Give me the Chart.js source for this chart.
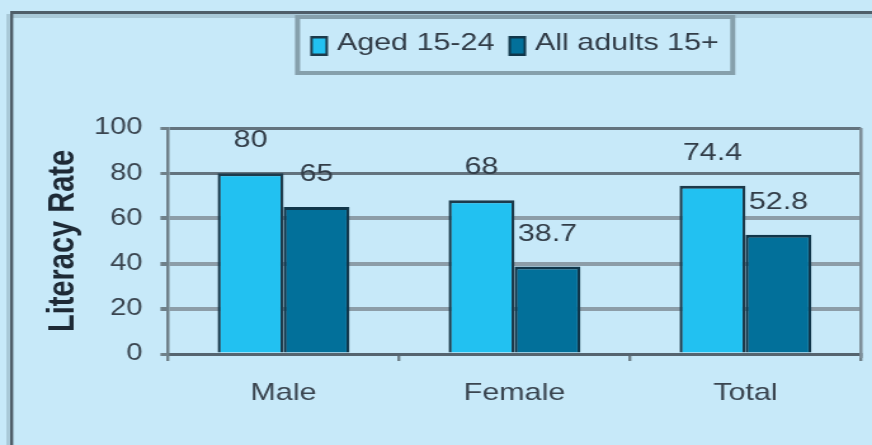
<!DOCTYPE html>
<html>
<head>
<meta charset="utf-8">
<script src="https://cdn.jsdelivr.net/npm/chart.js@4"></script>
<style>
  html, body { margin: 0; padding: 0; background: #c7e9f9; overflow: hidden; }
  #chart { display: block; }
</style>
</head>
<body>
<!-- the source chart is stretched sideways, so the canvas is drawn narrow and widened by css -->
<canvas id="chart" width="687" height="445" style="width:872px;height:445px"></canvas>
<script>
const categories = ['Male', 'Female', 'Total'];
const seriesNames = ['Aged 15-24', 'All adults 15+'];
const aged1524 = [80, 68, 74.4];
const allAdults = [65, 38.7, 52.8];
const yTicks = [0, 20, 40, 60, 80, 100];

const seriesColors = ['#22c1f1', '#02709a'];
const seriesBorders = ['#1c3a4b', '#10364a'];
const FONT = '"Liberation Sans", Arial, sans-serif';

Chart.defaults.font.family = FONT;

const frame = {
  id: 'frame',
  beforeDraw(chart) {
    const { ctx, width, height } = chart;
    ctx.save();
    ctx.fillStyle = '#c7e9f9';
    ctx.fillRect(0, 0, width, height);
    // outer chart border (cropped on right / bottom)
    ctx.fillStyle = '#a9c9d8';
    ctx.fillRect(5, 14, 3, height);
    ctx.fillRect(10, 14, width, 4);
    ctx.fillStyle = '#4f5e69';
    ctx.fillRect(8, 11, 2.4, height);
    ctx.fillRect(8, 11, width, 3);
    ctx.restore();
  },
  afterDraw(chart) {
    const { ctx, chartArea } = chart;
    ctx.save();
    // right edge of plot area
    ctx.strokeStyle = '#7d8d97';
    ctx.lineWidth = 2.5;
    ctx.beginPath();
    ctx.moveTo(chartArea.right, chartArea.top);
    ctx.lineTo(chartArea.right, chartArea.bottom + 4);
    ctx.stroke();
    ctx.restore();
  }
};

const valueLabels = {
  id: 'valueLabels',
  afterDatasetsDraw(chart) {
    const ctx = chart.ctx;
    ctx.save();
    ctx.font = '24px ' + FONT;
    ctx.fillStyle = '#323d48';
    ctx.textAlign = 'center';
    ctx.textBaseline = 'alphabetic';
    chart.data.datasets.forEach((ds, i) => {
      chart.getDatasetMeta(i).data.forEach((bar, j) => {
        ctx.fillText(String(ds.data[j]), bar.x, bar.y - 26);
      });
    });
    ctx.restore();
  }
};

const boxedLegend = {
  id: 'boxedLegend',
  afterDraw(chart) {
    const { ctx, chartArea } = chart;
    const sets = chart.data.datasets;
    ctx.save();
    ctx.font = '24px ' + FONT;
    const sq = 14, sqGap = 7, itemGap = 11;
    const widths = sets.map(ds => ctx.measureText(ds.label).width);
    let total = itemGap * (sets.length - 1);
    widths.forEach(w => { total += sq + sqGap + w; });
    let x = (chartArea.left + chartArea.right) / 2 - total / 2;

    ctx.strokeStyle = '#86a0ac';
    ctx.lineWidth = 4;
    ctx.strokeRect(x - 10, 17, total + 21, 56);

    sets.forEach((ds, i) => {
      ctx.fillStyle = ds.borderColor;
      ctx.fillRect(x, 36, sq, 20);
      ctx.fillStyle = ds.backgroundColor;
      ctx.fillRect(x + 2, 38.5, sq - 4, 15);
      ctx.fillStyle = '#323d48';
      ctx.textBaseline = 'alphabetic';
      ctx.fillText(ds.label, x + sq + sqGap, 50);
      x += sq + sqGap + widths[i] + itemGap;
    });
    ctx.restore();
  }
};

new Chart(document.getElementById('chart'), {
  type: 'bar',
  data: {
    labels: categories,
    datasets: [
      {
        label: seriesNames[0],
        data: aged1524,
        backgroundColor: seriesColors[0],
        borderColor: seriesBorders[0],
        borderWidth: { top: 3, left: 2.4, right: 2.4, bottom: 0 },
        borderSkipped: 'bottom',
        categoryPercentage: 0.571,
        barPercentage: 1
      },
      {
        label: seriesNames[1],
        data: allAdults,
        backgroundColor: seriesColors[1],
        borderColor: seriesBorders[1],
        borderWidth: { top: 3, left: 2.4, right: 2.4, bottom: 0 },
        borderSkipped: 'bottom',
        categoryPercentage: 0.571,
        barPercentage: 1
      }
    ]
  },
  options: {
    responsive: false,
    animation: false,
    layout: { padding: { left: 33, right: 8.7, top: 128, bottom: 0 } },
    plugins: {
      legend: { display: false },
      tooltip: { enabled: false }
    },
    scales: {
      x: {
        offset: true,
        grid: {
          offset: true,
          drawOnChartArea: false,
          tickLength: 7,
          tickColor: '#6f8089',
          lineWidth: 2.4
        },
        border: { color: '#55646f', width: 3 },
        ticks: { color: '#3a4550', font: { size: 24 }, padding: 18 },
        afterFit(scale) { scale.height = 91; }
      },
      y: {
        min: 0,
        max: 100,
        afterBuildTicks(scale) { scale.ticks = yTicks.map(v => ({ value: v })); },
        afterFit(scale) { scale.width = 99.4; },
        grid: {
          color: c => (c.tick && c.tick.value >= 80 ? '#63737e' : (c.tick && c.tick.value === 0 ? '#5a6a75' : '#8c9da8')),
          lineWidth: c => (c.tick && c.tick.value > 0 && c.tick.value < 80 ? 4 : 3),
          tickLength: 6,
          tickColor: '#6f8089'
        },
        border: { color: '#6f8089', width: 2.5 },
        ticks: { color: '#3a4550', font: { size: 23 }, padding: 14 },
        title: {
          display: true,
          text: 'Literacy Rate',
          color: '#1e2a36',
          font: { size: 29, weight: 'bold' },
          padding: { top: 0, bottom: 0 }
        }
      }
    }
  },
  plugins: [frame, valueLabels, boxedLegend]
});
</script>
</body>
</html>
